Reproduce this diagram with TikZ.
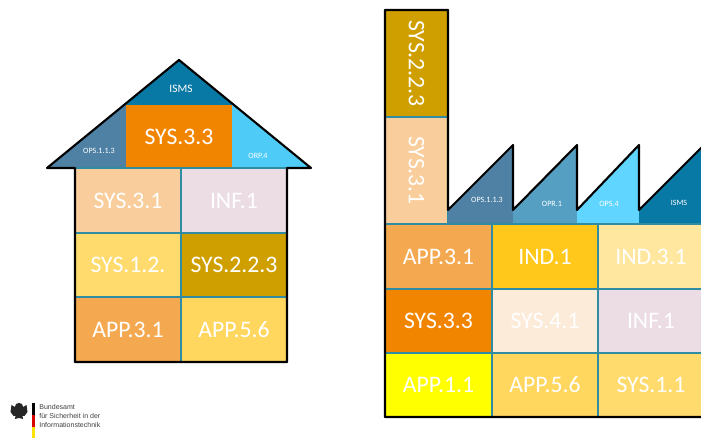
\documentclass[tikz,border=0pt]{standalone}
\usepackage{fontspec}
\setmainfont{Carlito}
\newfontfamily\logofont{Liberation Sans}
\definecolor{colSysA}{HTML}{F18500}
\definecolor{colSysB}{HTML}{F9CE9C}
\definecolor{colSysC}{HTML}{FFDB6E}
\definecolor{colSysD}{HTML}{CF9F00}
\definecolor{colSysE}{HTML}{FDEBDA}
\definecolor{colInf}{HTML}{ECDDE5}
\definecolor{colAppA}{HTML}{F4A950}
\definecolor{colAppB}{HTML}{FFD75F}
\definecolor{colAppC}{HTML}{FFFF00}
\definecolor{colIndA}{HTML}{FFC81A}
\definecolor{colIndB}{HTML}{FFE7A0}
\definecolor{colIsms}{HTML}{0878A4}
\definecolor{colOps}{HTML}{4F81A4}
\definecolor{colOpr}{HTML}{559FC2}
\definecolor{colOrp}{HTML}{4FCBF7}
\definecolor{colOpf}{HTML}{5FD5FF}
\definecolor{colEdge}{HTML}{2F8CA3}
\tikzset{
  tile/.style={draw=colEdge, line width=0.8pt},
  wedge/.style={draw=none},
  outline/.style={very thick, line join=round},
  bigtext/.style={text=white, font=\fontsize{13.5}{15}\selectfont, inner sep=0pt},
  smalltext/.style={text=white, font=\fontsize{4.6}{5}\selectfont, inner sep=0pt},
  logotext/.style={anchor=west, inner sep=0pt, text=black!75, font=\logofont\fontsize{4}{4.5}\selectfont}
}
\begin{document}
\begin{tikzpicture}[x=0.02cm, y=-0.02cm]
\clip (0,0) rectangle (701,438);
% house roof
\fill[colIsms] (179,60) -- (234,105) -- (124,105) -- cycle;
\fill[colOps] (124,105) -- (126,105) -- (126,168) -- (47,168) -- cycle;
\fill[colOrp] (232,105) -- (234,105) -- (311,168) -- (232,168) -- cycle;
\draw[wedge, fill=colSysA] (126,105) rectangle (232,168) node[midway, bigtext] (h33) {SYS.3.3};
\node[smalltext, font=\fontsize{6.5}{7}\selectfont] (hisms) at (181,89) {ISMS};
\node[smalltext] (hops) at (99,151) {OPS.1.1.3};
\node[smalltext] (horp) at (258,156) {ORP.4};
% house cells
\draw[tile, fill=colSysB] (75,168) rectangle (181,233) node[midway, bigtext] (h31) {SYS.3.1};
\draw[tile, fill=colInf] (181,168) rectangle (287,233) node[midway, bigtext] (hinf) {INF.1};
\draw[tile, fill=colSysC] (75,233) rectangle (181,297) node[midway, bigtext] (h12) {SYS.1.2.};
\draw[tile, fill=colSysD] (181,233) rectangle (287,297) node[midway, bigtext] (h223) {SYS.2.2.3};
\draw[tile, fill=colAppA] (75,297) rectangle (181,362) node[midway, bigtext] (happ31) {APP.3.1};
\draw[tile, fill=colAppB] (181,297) rectangle (287,362) node[midway, bigtext] (happ56) {APP.5.6};
\draw[outline] (75,362) -- (75,168) -- (47,168) -- (179,60) -- (311,168) -- (287,168) -- (287,362) -- cycle;
% factory chimney
\draw[tile, fill=colSysD] (385,10) rectangle (448,117) node[midway, bigtext, rotate=-90] (f223) {SYS.2.2.3};
\draw[tile, fill=colSysB] (385,117) rectangle (448,224) node[midway, bigtext, rotate=-90] (f31) {SYS.3.1};
% factory roof
\fill[colOps] (448,224) -- (448,210) -- (513,145) -- (513,224) -- cycle;
\fill[colOpr] (513,224) -- (513,210) -- (577,145) -- (577,224) -- cycle;
\fill[colOpf] (577,224) -- (577,210) -- (639,145) -- (639,224) -- cycle;
\fill[colIsms] (639,224) -- (639,210) -- (704,145) -- (704,224) -- cycle;
\draw[colEdge, line width=0.8pt] (448,224) -- (704,224);
\node[smalltext] (fops) at (487,200) {OPS.1.1.3};
\node[smalltext] (fopr) at (552,204) {OPR.1};
\node[smalltext] (fopf) at (609,204) {OPS.4};
\node[smalltext] (fisms) at (679,203) {ISMS};
% factory cells
\draw[tile, fill=colAppA] (385,224) rectangle (492,289) node[midway, bigtext] (fapp31) {APP.3.1};
\draw[tile, fill=colIndA] (492,224) rectangle (598,289) node[midway, bigtext] (find1) {IND.1};
\draw[tile, fill=colIndB] (598,224) rectangle (704,289) node[midway, bigtext] (find31) {IND.3.1};
\draw[tile, fill=colSysA] (385,289) rectangle (492,353) node[midway, bigtext] (f33) {SYS.3.3};
\draw[tile, fill=colSysE] (492,289) rectangle (598,353) node[midway, bigtext] (f41) {SYS.4.1};
\draw[tile, fill=colInf] (598,289) rectangle (704,353) node[midway, bigtext] (finf) {INF.1};
\draw[tile, fill=colAppC] (385,353) rectangle (492,417) node[midway, bigtext] (fapp11) {APP.1.1};
\draw[tile, fill=colAppB] (492,353) rectangle (598,417) node[midway, bigtext] (fapp56) {APP.5.6};
\draw[tile, fill=colSysC] (598,353) rectangle (704,417) node[midway, bigtext] (f11) {SYS.1.1};
\draw[outline] (704,417) -- (385,417) -- (385,10) -- (448,10) -- (448,210) -- (513,145) -- (513,210) -- (577,145) -- (577,210) -- (639,145) -- (639,210) -- (704,145);
% logo
\fill[black!85] (19,403) -- (22,404) -- (23,407) -- (26.5,405) -- (27.5,412) -- (24.5,416) -- (22.5,416) -- (23,419) -- (19,418) -- (15,419) -- (15.5,416) -- (13.5,416) -- (10.5,412) -- (11.5,405) -- (15,407) -- (16,404) -- cycle;
\fill[black] (32,403) rectangle (35,415);
\fill[red!85!black] (32,415) rectangle (35,427);
\fill[yellow!85!orange] (32,427) rectangle (35,438);
\node[logotext] (logoa) at (39,406.5) {Bundesamt};
\node[logotext] (logob) at (39,415.5) {für Sicherheit in der};
\node[logotext] (logoc) at (39,424.5) {Informationstechnik};
\end{tikzpicture}
\end{document}
